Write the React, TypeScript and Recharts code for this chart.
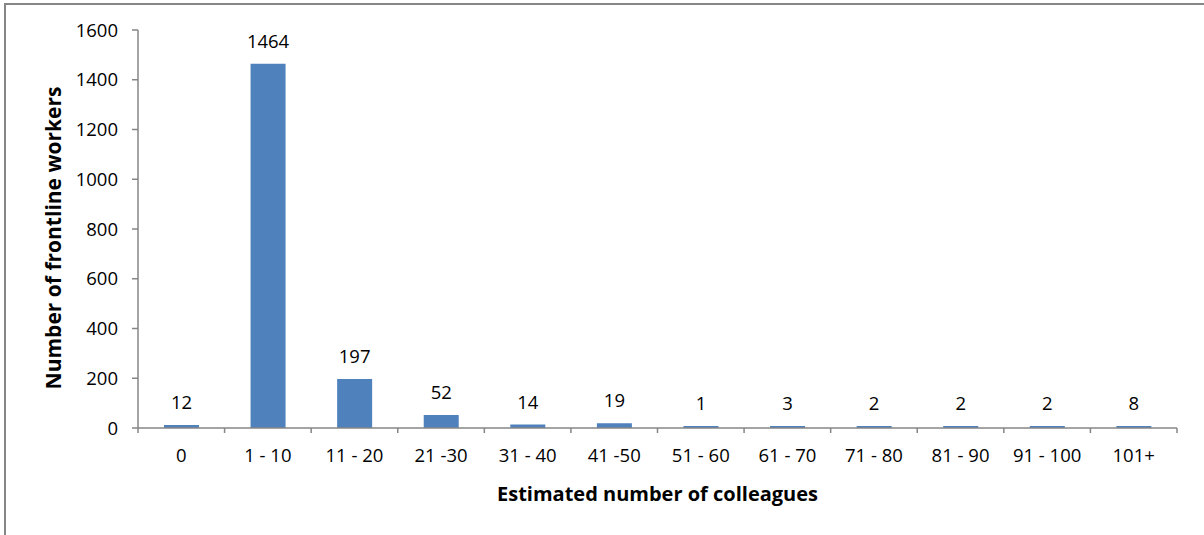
import React from 'react';
import { BarChart, Bar, XAxis, YAxis, LabelList } from 'recharts';

const categories = ['0', '1 - 10', '11 - 20', '21 -30', '31 - 40', '41 -50', '51 - 60', '61 - 70', '71 - 80', '81 - 90', '91 - 100', '101+'];
const workers = [12, 1464, 197, 52, 14, 19, 1, 3, 2, 2, 2, 8];
const yTicks = [0, 200, 400, 600, 800, 1000, 1200, 1400, 1600];

const data = categories.map((c, i) => ({ cat: c, value: workers[i] }));

const FONT = '"Open Sans", "Noto Sans", sans-serif';
const AXIS = '#868686';
const X_TICK_SIZE = 5;
const X_TICK_MARGIN = 16;

const CatTick = (props: any) => {
  const { x, y, payload, index, visibleTicksCount } = props;
  const off = payload.offset || 0;
  const y0 = y - X_TICK_SIZE - X_TICK_MARGIN;
  const isLast = index === visibleTicksCount - 1;
  return (
    <g>
      <line x1={x - off} x2={x - off} y1={y0} y2={y0 + X_TICK_SIZE} stroke={AXIS} strokeWidth={1.5} />
      {isLast && (
        <line x1={x + off} x2={x + off} y1={y0} y2={y0 + X_TICK_SIZE} stroke={AXIS} strokeWidth={1.5} />
      )}
      <text x={x} y={y} dy="0.71em" textAnchor="middle" fontSize={18.5} fontFamily={FONT} fill="#000">
        {payload.value}
      </text>
    </g>
  );
};

const YTitle = () => (
  <text
    x={53}
    y={238}
    transform="rotate(-90, 53, 238)"
    textAnchor="middle"
    dominantBaseline="central"
    fontSize={21}
    fontWeight={700}
    fontFamily={FONT}
    fill="#000"
  >
    Number of frontline workers
  </text>
);

export default function App() {
  return (
    <div style={{ position: 'fixed', left: 0, top: 0, width: 1204, height: 535, overflow: 'hidden', background: '#fff' }}>
      <div style={{ position: 'absolute', left: 4, top: 3, width: 1400, height: 700, borderLeft: `2px solid ${AXIS}`, borderTop: `2px solid ${AXIS}` }} />
      <div style={{ position: 'absolute', left: 0, top: 0 }}>
        <BarChart width={1204} height={535} data={data} margin={{ top: 30, right: 27, bottom: 0, left: 0 }} barCategoryGap="30%">
          <XAxis
            dataKey="cat"
            height={107}
            stroke={AXIS}
            strokeWidth={1.5}
            tickLine={false}
            tickSize={X_TICK_SIZE}
            tickMargin={X_TICK_MARGIN}
            tick={<CatTick />}
            interval={0}
            label={{ value: 'Estimated number of colleagues', position: 'insideBottom', offset: 34, fontSize: 20, fontWeight: 700, fontFamily: FONT, fill: '#000' }}
          />
          <YAxis
            width={138}
            domain={[0, 1600]}
            ticks={yTicks}
            interval={0}
            stroke={AXIS}
            strokeWidth={1.5}
            tickSize={6}
            tickMargin={14}
            tick={{ fontSize: 18.5, fontFamily: FONT, fill: '#000' }}
            label={<YTitle />}
          />
          <Bar dataKey="value" fill="#4F81BD" isAnimationActive={false} minPointSize={2}>
            <LabelList dataKey="value" position="top" offset={16} fontSize={18.5} fontFamily={FONT} fill="#000" />
          </Bar>
        </BarChart>
      </div>
    </div>
  );
}
